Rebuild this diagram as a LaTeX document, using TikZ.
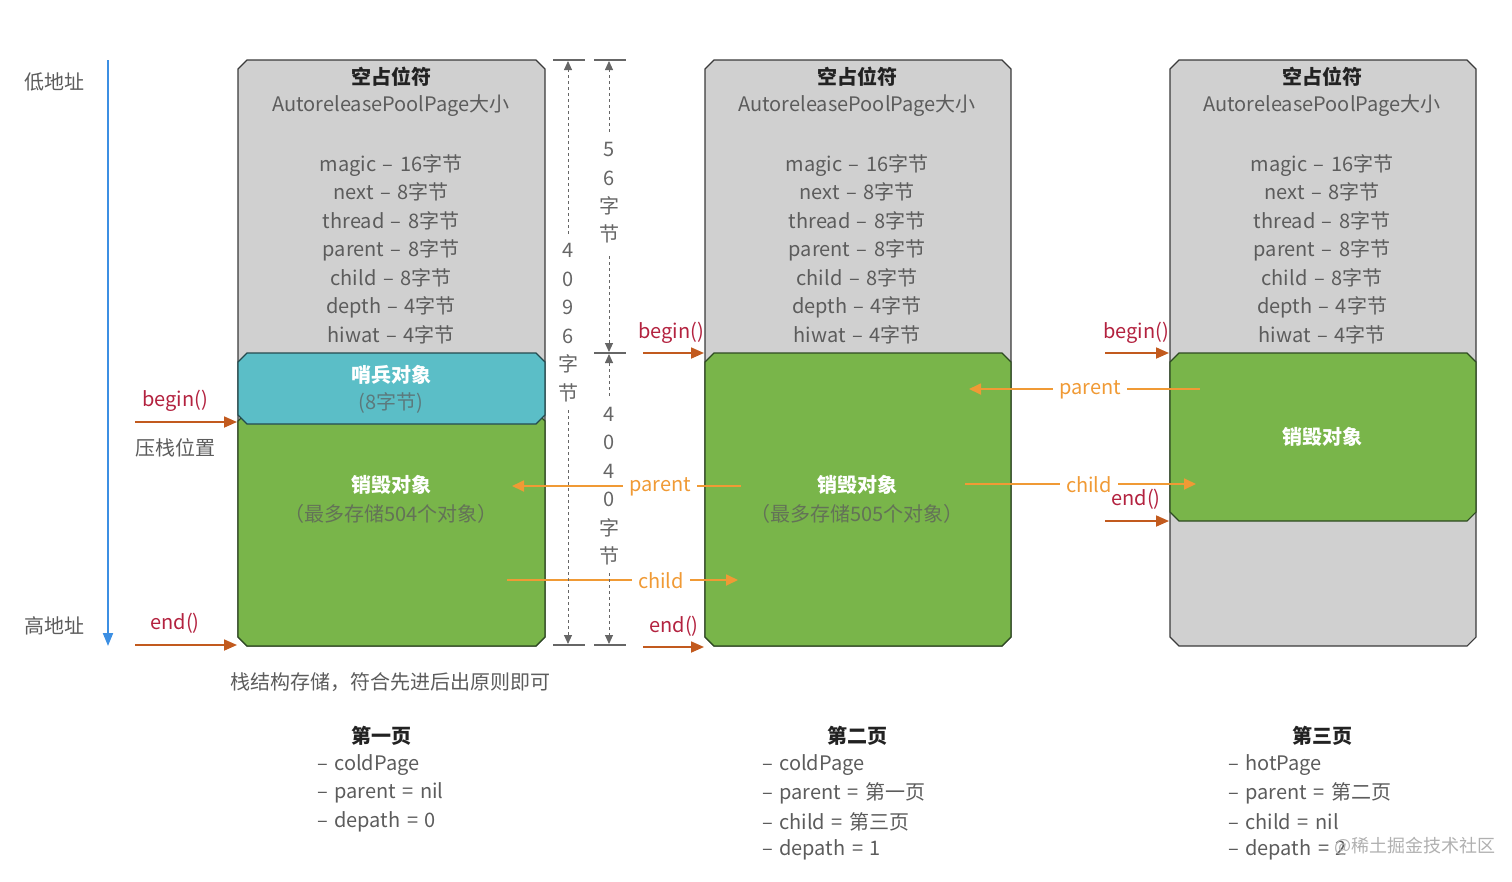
\documentclass[tikz,border=0pt]{standalone}
\usepackage{fontspec}
\setmainfont[WordSpace=1.45]{Noto Sans CJK SC}
\usetikzlibrary{arrows.meta}
\definecolor{txt}{HTML}{5C5C5C}
\definecolor{dark}{HTML}{222222}
\definecolor{grayfill}{HTML}{D0D0D0}
\definecolor{tealfill}{HTML}{5BBEC7}
\definecolor{greenfill}{HTML}{79B54A}
\definecolor{boxline}{HTML}{3A3A3A}
\definecolor{greenline}{HTML}{2E4A22}
\definecolor{tealline}{HTML}{244A4E}
\definecolor{orangec}{HTML}{F09A35}
\definecolor{redc}{HTML}{B3223F}
\definecolor{brownc}{HTML}{C25A1E}
\definecolor{bluec}{HTML}{3C8FE3}
\definecolor{dimc}{HTML}{666666}
\definecolor{wm}{HTML}{B0B0B0}
% chamfered box: style, x1, y1, x2, y2
\newcommand\chambox[5]{%
  \path[#1] (#2+9,#3) -- (#4-9,#3) -- (#4,#3+9) -- (#4,#5-9) -- (#4-9,#5)
     -- (#2+9,#5) -- (#2,#5-9) -- (#2,#3+9) -- cycle;}
\begin{document}
\begin{tikzpicture}[x=1pt,y=-1pt,
  font=\fontsize{20}{24}\selectfont,
  graybox/.style={fill=grayfill, draw=boxline, line width=1.1pt},
  greenbox/.style={fill=greenfill, draw=greenline, line width=1.1pt},
  tealbox/.style={fill=tealfill, draw=tealline, line width=1.1pt},
  titletxt/.style={text=dark, font=\fontsize{20}{24}\selectfont\bfseries},
  plain/.style={text=txt, inner sep=1pt},
  fields/.style={text=txt, align=center, font=\fontsize{20}{28.55}\selectfont},
  whitebold/.style={text=white, font=\fontsize{20}{24}\selectfont\bfseries},
  callret/.style={text=redc, inner sep=1pt},
  callarrow/.style={draw=brownc, line width=1.8pt, -{Triangle[length=13pt,width=11pt]}},
  linkarrow/.style={draw=orangec, line width=1.8pt, -{Triangle[length=12pt,width=11pt]}},
  linkline/.style={draw=orangec, line width=1.8pt},
  linklabel/.style={text=orangec, inner sep=6pt},
  dimline/.style={draw=dimc, line width=0.9pt, dash pattern=on 3pt off 3pt, -{Triangle[length=9pt,width=8pt]}},
  dimbar/.style={draw=dimc, line width=1.8pt},
  dimchar/.style={text=dimc, inner sep=0pt},
  listtxt/.style={text=txt, anchor=west, inner sep=0pt}
]
\useasboundingbox (0,0) rectangle (1512,881);

% ---------- address axis ----------
\node[plain] (low) at (54,82) {低地址};
\node[plain] (high) at (54,626) {高地址};
\coordinate (axtop) at (108,60);
\coordinate (axbot) at (108,646);
\draw[draw=bluec, line width=2pt, -{Triangle[length=13pt,width=10pt]}] (axtop) -- (axbot);

% ---------- page boxes ----------
\chambox{graybox}{238}{60}{545}{646}
\chambox{greenbox}{238}{412}{545}{646}
\chambox{tealbox}{238}{353}{545}{424}

\chambox{graybox}{705}{60}{1011}{646}
\chambox{greenbox}{705}{353}{1011}{646}

\chambox{graybox}{1170}{60}{1476}{646}
\chambox{greenbox}{1170}{353}{1476}{521}

% ---------- page texts ----------
\foreach \i/\x in {1/391, 2/857, 3/1322}{
  \node[titletxt] (title\i) at (\x,77) {空占位符};
  \node[plain] (size\i) at (\x,106) {AutoreleasePoolPage大小};
  \node[fields] (fields\i) at (\x,249) {magic – 16字节\\next – 8字节\\thread – 8字节\\parent – 8字节\\child – 8字节\\depth – 4字节\\hiwat – 4字节};
}
\node[whitebold] (sentinel) at (391,375) {哨兵对象};
\node[text=txt!70!tealfill] (sentsize) at (391,403) {(8字节)};
\node[whitebold] (dispose1) at (391,485) {销毁对象};
\node[text=txt!75!greenfill] (cap1) at (391,514) {（最多存储504个对象）};
\node[whitebold] (dispose2) at (857,485) {销毁对象};
\node[text=txt!75!greenfill] (cap2) at (857,514) {（最多存储505个对象）};
\node[whitebold] (dispose3) at (1322,437) {销毁对象};

% ---------- begin / end markers ----------
\node[callret] (b1) at (175,401) {begin()};
\coordinate (b1s) at (135,422); \coordinate (b1e) at (237,422);
\draw[callarrow] (b1s) -- (b1e);
\node[plain] (push) at (175,448) {压栈位置};
\node[callret] (e1) at (175,623) {end()};
\coordinate (e1s) at (135,645); \coordinate (e1e) at (237,645);
\draw[callarrow] (e1s) -- (e1e);

\node[callret] (b2) at (671,333) {begin()};
\coordinate (b2s) at (643,353); \coordinate (b2e) at (704,353);
\draw[callarrow] (b2s) -- (b2e);
\node[callret] (e2) at (674,626) {end()};
\coordinate (e2s) at (643,647); \coordinate (e2e) at (704,647);
\draw[callarrow] (e2s) -- (e2e);

\node[callret] (b3) at (1136,333) {begin()};
\coordinate (b3s) at (1105,353); \coordinate (b3e) at (1169,353);
\draw[callarrow] (b3s) -- (b3e);
\node[callret] (e3) at (1136,499) {end()};
\coordinate (e3s) at (1105,521); \coordinate (e3e) at (1169,521);
\draw[callarrow] (e3s) -- (e3e);

% ---------- parent / child links ----------
\node[linklabel] (par1) at (660,487) {parent};
\coordinate (par1r) at (741,486); \coordinate (par1l) at (512,486);
\draw[linkline] (par1r) -- (par1.east |- par1r);
\draw[linkarrow] (par1.west |- par1r) -- (par1l);

\node[linklabel] (chi1) at (661,581) {child};
\coordinate (chi1l) at (507,580); \coordinate (chi1r) at (738,580);
\draw[linkline] (chi1l) -- (chi1.west |- chi1l);
\draw[linkarrow] (chi1.east |- chi1l) -- (chi1r);

\node[linklabel] (par2) at (1090,390) {parent};
\coordinate (par2r) at (1200,389); \coordinate (par2l) at (969,389);
\draw[linkline] (par2r) -- (par2.east |- par2r);
\draw[linkarrow] (par2.west |- par2r) -- (par2l);

\node[linklabel] (chi2) at (1089,485) {child};
\coordinate (chi2l) at (965,484); \coordinate (chi2r) at (1196,484);
\draw[linkline] (chi2l) -- (chi2.west |- chi2l);
\draw[linkarrow] (chi2.east |- chi2l) -- (chi2r);

% ---------- dimension: 4096 bytes ----------
\coordinate (d1t1) at (553,60); \coordinate (d1t2) at (585,60);
\coordinate (d1b1) at (553,645); \coordinate (d1b2) at (585,645);
\draw[dimbar] (d1t1) -- (d1t2);
\draw[dimbar] (d1b1) -- (d1b2);
\foreach \c/\y [count=\k] in {4/250,0/279,9/307,6/336,字/364,节/393}{
  \node[dimchar] (da\k) at (568,\y) {\c};
}
\coordinate (d1u) at (568,234);
\coordinate (d1d) at (568,410);
\draw[dimline] (d1u) -- (568,61);
\draw[dimline] (d1d) -- (568,644);

% ---------- dimension: 56 bytes ----------
\coordinate (d2t1) at (594,60); \coordinate (d2t2) at (626,60);
\coordinate (d2m1) at (594,353); \coordinate (d2m2) at (626,353);
\coordinate (d2b1) at (594,645); \coordinate (d2b2) at (626,645);
\draw[dimbar] (d2t1) -- (d2t2);
\draw[dimbar] (d2m1) -- (d2m2);
\draw[dimbar] (d2b1) -- (d2b2);
\foreach \c/\y [count=\k] in {5/149,6/178,字/206,节/234}{
  \node[dimchar] (db\k) at (609,\y) {\c};
}
\coordinate (d2u) at (609,132);
\coordinate (d2d) at (609,256);
\draw[dimline] (d2u) -- (609,61);
\draw[dimline] (d2d) -- (609,352);

% ---------- dimension: 4040 bytes ----------
\foreach \c/\y [count=\k] in {4/414,0/442,4/471,0/499,字/528,节/556}{
  \node[dimchar] (dc\k) at (609,\y) {\c};
}
\coordinate (d3u) at (609,396);
\coordinate (d3d) at (609,573);
\draw[dimline] (d3u) -- (609,354);
\draw[dimline] (d3d) -- (609,644);

% ---------- note ----------
\node[plain] (note) at (390,682) {栈结构存储，符合先进后出原则即可};

% ---------- page descriptions ----------
\node[titletxt] (p1) at (381,736) {第一页};
\node[listtxt] (p1a) at (317,765) {– coldPage};
\node[listtxt] (p1b) at (317,793) {– parent = nil};
\node[listtxt] (p1c) at (317,822) {– depath = 0};

\node[titletxt] (p2) at (857,736) {第二页};
\node[listtxt] (p2a) at (762,765) {– coldPage};
\node[listtxt] (p2b) at (762,793) {– parent = 第一页};
\node[listtxt] (p2c) at (762,822) {– child = 第三页};
\node[listtxt] (p2d) at (762,850) {– depath = 1};

\node[titletxt] (p3) at (1322,736) {第三页};
\node[listtxt] (p3a) at (1228,765) {– hotPage};
\node[listtxt] (p3b) at (1228,793) {– parent = 第二页};
\node[listtxt] (p3c) at (1228,822) {– child = nil};
\node[listtxt] (p3d) at (1228,850) {– depath = 2};

\node[text=wm, inner sep=0pt, font=\fontsize{18}{20}\selectfont] (wmark) at (1415,846) {@稀土掘金技术社区};
\end{tikzpicture}
\end{document}
